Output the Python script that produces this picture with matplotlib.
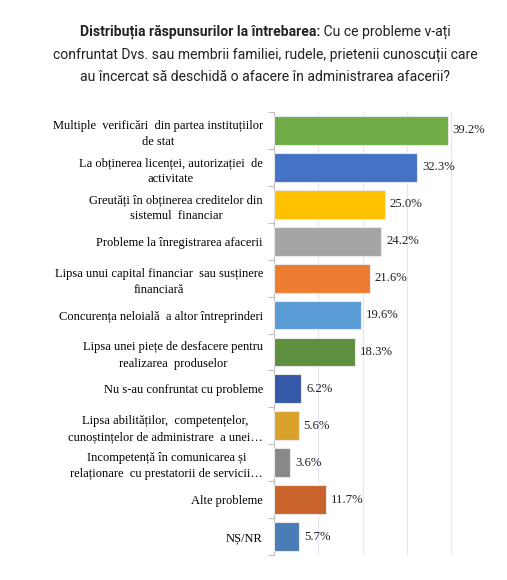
import matplotlib
matplotlib.use("Agg")
import matplotlib.pyplot as plt
from matplotlib.ticker import FixedLocator
import numpy as np

categories = [
    "Multiple  verificări  din partea instituțiilor\nde stat",
    "La obținerea licenței, autorizației  de\nactivitate",
    "Greutăți în obținerea creditelor din\nsistemul  financiar",
    "Probleme la înregistrarea afacerii",
    "Lipsa unui capital financiar  sau susținere\nfinanciară",
    "Concurența neloială  a altor întreprinderi",
    "Lipsa unei piețe de desfacere pentru\nrealizarea  produselor",
    "Nu s-au confruntat cu probleme",
    "Lipsa abilităților,  competențelor,\ncunoștințelor de administrare  a unei…",
    "Incompetență în comunicarea și\nrelaționare  cu prestatorii de servicii…",
    "Alte probleme",
    "NȘ/NR",
]
values = [39.2, 32.3, 25.0, 24.2, 21.6, 19.6, 18.3, 6.2, 5.6, 3.6, 11.7, 5.7]
colors = ["#70AD47", "#4472C4", "#FFC000", "#A5A5A5", "#ED7D31", "#5B9BD5",
          "#5E8F3E", "#3559A8", "#D9A22C", "#888888", "#C8642B", "#4A7DB5"]
value_labels = [f"{v:.1f}%" for v in values]

title_bold = "Distribuția răspunsurilor la întrebarea:"
title_line1 = " Cu ce probleme v-ați"
title_line2 = "confruntat Dvs. sau membrii familiei, rudele, prietenii cunoscuții care"
title_line3 = "au încercat să deschidă o afacere în administrarea afacerii?"

W, H = 507, 580
fig = plt.figure(figsize=(W / 100, H / 100), dpi=100)
fig.patch.set_facecolor("white")

ax = fig.add_axes([274 / W, 1 - 555 / H, (495.5 - 274) / W, (555 - 112) / H])
n = len(values)
y = np.arange(n)
ax.barh(y, values, height=0.78, color=colors, edgecolor="#e8e8e8", linewidth=0.8, zorder=3)
ax.set_ylim(n - 0.5, -0.5)
ax.set_xlim(0, 50)

ax.xaxis.set_major_locator(FixedLocator([10, 20, 30, 40, 50]))
ax.grid(axis="x", color="#E1E6F0", linewidth=0.8, zorder=0)
ax.tick_params(axis="x", bottom=False, labelbottom=False)

serif = ["Liberation Serif", "DejaVu Serif"]
ax.set_yticks(y)
ax.set_yticklabels(categories, fontsize=9.0, family=serif, ha="right",
                   multialignment="center", linespacing=1.45)
ax.tick_params(axis="y", which="major", length=0, pad=8)
ax.yaxis.set_minor_locator(FixedLocator(np.arange(-0.5, n, 1.0)))
ax.tick_params(axis="y", which="minor", length=4, color="#BFBFBF", width=0.8)

for s in ["top", "right", "bottom"]:
    ax.spines[s].set_visible(False)
ax.spines["left"].set_color("#BFBFBF")
ax.spines["left"].set_linewidth(0.8)

for yi, v, lab in zip(y, values, value_labels):
    ax.text(v + 1.1, yi, lab, va="center", ha="left", fontsize=9.2, family=serif, color="#222222")

# Title with bold lead-in
tfam = ["Roboto", "DejaVu Sans"]
tsize = 10.1
cx = 265 / W
renderer = fig.canvas.get_renderer()
tb = fig.text(0, 1 - 32 / H, title_bold, fontsize=tsize, fontweight="bold", family=tfam,
              ha="left", va="center", color="#222222")
tr = fig.text(0, 1 - 32 / H, title_line1, fontsize=tsize, family=tfam,
              ha="left", va="center", color="#222222")
wb = tb.get_window_extent(renderer).width / W
wr = tr.get_window_extent(renderer).width / W
x0 = cx - (wb + wr) / 2
tb.set_x(x0)
tr.set_x(x0 + wb)
fig.text(cx, 1 - 55 / H, title_line2, fontsize=tsize, family=tfam, ha="center", va="center", color="#222222")
fig.text(cx, 1 - 77 / H, title_line3, fontsize=tsize, family=tfam, ha="center", va="center", color="#222222")

fig.savefig("out.png", dpi=100)
